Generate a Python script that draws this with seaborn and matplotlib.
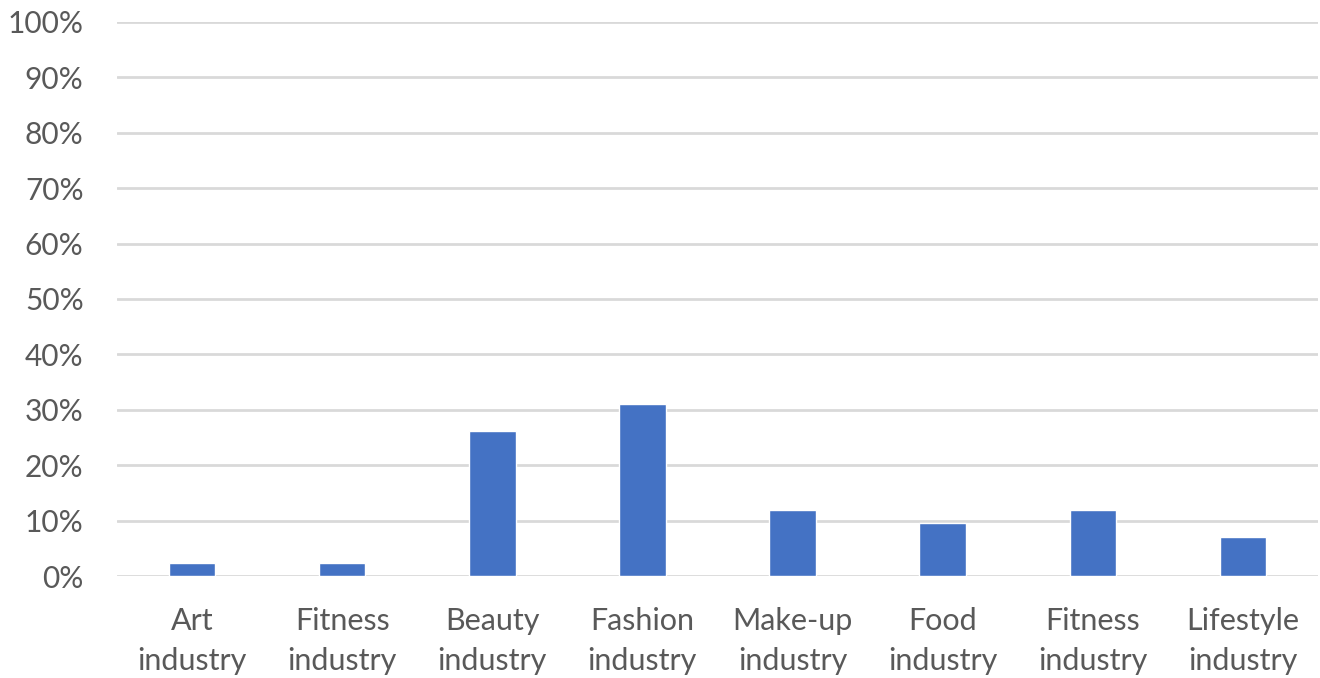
import matplotlib
matplotlib.use("Agg")
import matplotlib.pyplot as plt
import seaborn as sns
import pandas as pd
from matplotlib.ticker import FuncFormatter, MultipleLocator

categories = ["Art\nindustry", "Fitness\nindustry", "Beauty\nindustry", "Fashion\nindustry",
              "Make-up\nindustry", "Food\nindustry", "Fitness\nindustry", "Lifestyle\nindustry"]
values = [2.4, 2.4, 26.2, 31.0, 11.9, 9.5, 11.9, 7.1]

sns.set_theme(style="white")
plt.rcParams['font.family'] = ['Lato', 'DejaVu Sans']

df = pd.DataFrame({"cat": [f"c{i}" for i in range(len(categories))], "val": values})

fig = plt.figure(figsize=(13.2, 6.78), dpi=100)
ax = fig.add_axes([0.0886, 0.1504, 0.9099, 0.8172])
sns.barplot(data=df, x="cat", y="val", color="#4472C4", width=0.31, ax=ax,
            saturation=1, zorder=3)
ax.set_ylim(0, 100)
ax.set_xlim(-0.5, len(categories) - 0.5)
ax.yaxis.set_major_locator(MultipleLocator(10))
ax.yaxis.set_major_formatter(FuncFormatter(lambda v, p: f"{int(round(v))}%"))
ax.grid(axis="y", color="#D9D9D9", linewidth=2, zorder=0)
ax.set_axisbelow(True)
for s in ax.spines.values():
    s.set_visible(False)
ax.set_xticks(range(len(categories)))
ax.set_xticklabels(categories, linespacing=1.5)
ax.tick_params(axis="x", length=0, pad=22.5, labelsize=22, labelcolor="#595959")
ax.tick_params(axis="y", length=0, pad=24, labelsize=21.5, labelcolor="#595959")
ax.set_xlabel("")
ax.set_ylabel("")
fig.savefig("out.png", dpi=100)
